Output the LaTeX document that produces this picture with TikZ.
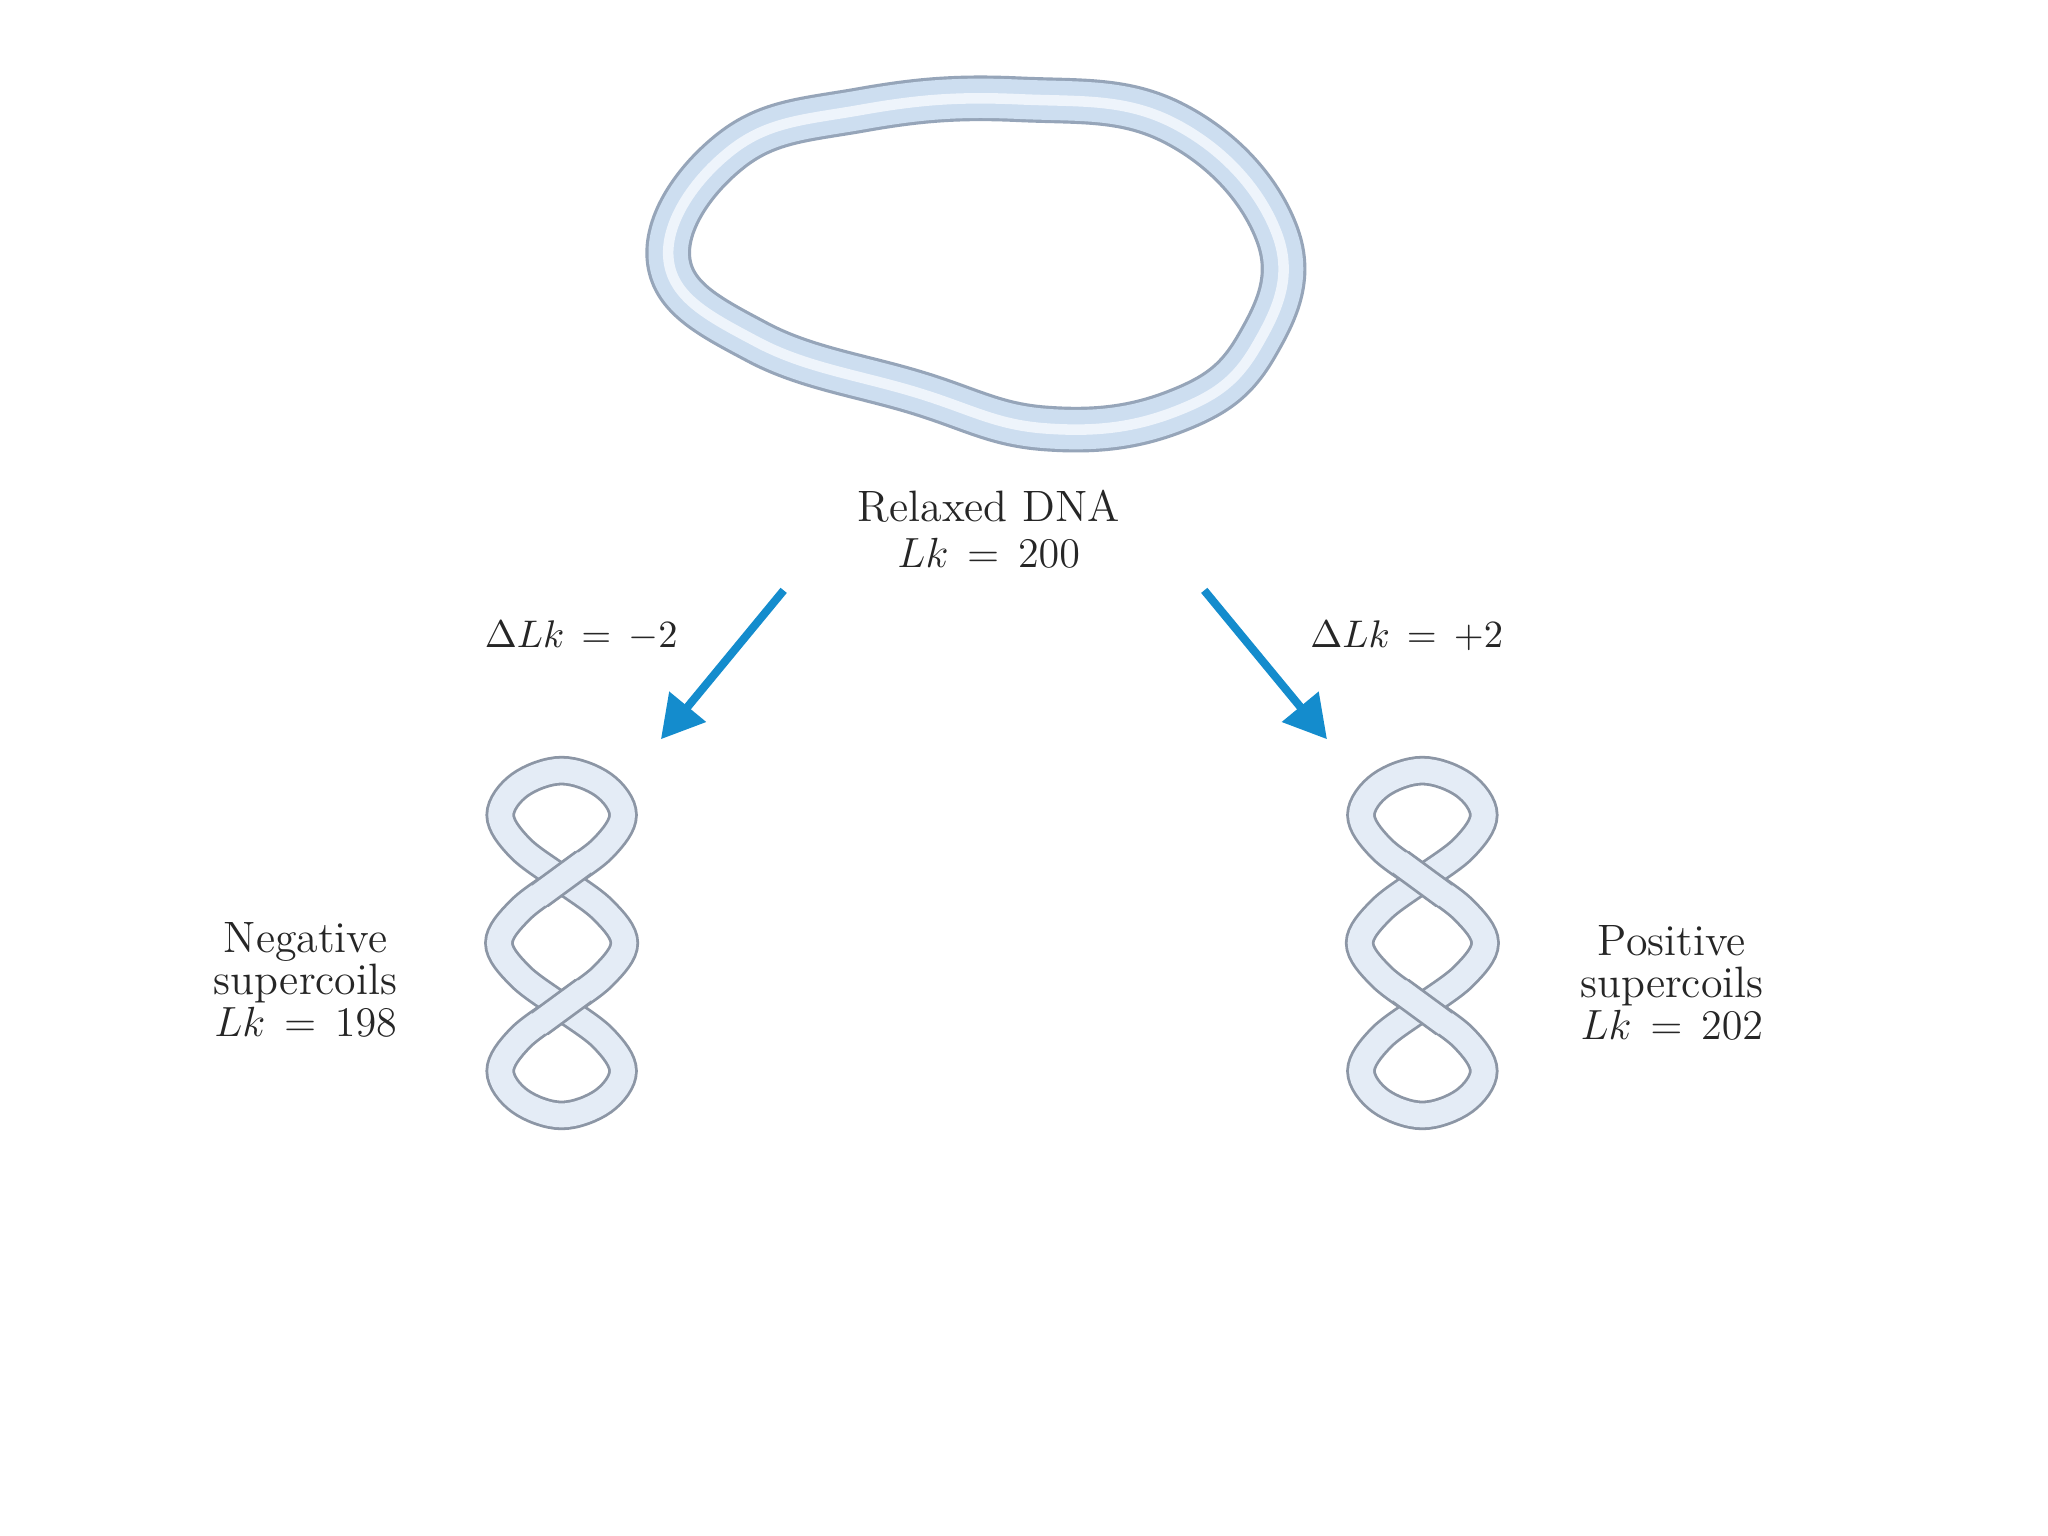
\documentclass[tikz,border=0pt]{standalone}
\usepackage{amsmath}
\usetikzlibrary{arrows.meta}
\tikzset{
 lbl/.style={font=\fontsize{12.5}{15}\selectfont, align=center, text=black!85},
 small/.style={font=\fontsize{11}{13}\selectfont, text=black!85},
 arr/.style={draw={rgb,255:red,20;green,140;blue,205}, line width=2.3pt, -{Triangle[width=13pt,length=12pt]}},
 tubeout/.style={draw={rgb,255:red,140;green,150;blue,165}, line width=8.4pt},
 tubein/.style={draw={rgb,255:red,228;green,236;blue,246}, line width=6.8pt},
}
\newcommand{\coilpath}{plot[smooth cycle,tension=0.6] coordinates{(0,-132) (32,-121) (47,-98) (32,-73) (0,-49) (-32,-25) (-48,0) (-32,25) (0,49) (32,73) (47,98) (32,121) (0,132) (-32,121) (-47,98) (-32,73) (0,49) (32,25) (48,0) (32,-25) (0,-49) (-32,-73) (-47,-98) (-32,-121)}}
\newcommand{\coil}{%
 \draw[tubeout] \coilpath; \draw[tubein] \coilpath;
 \draw[tubeout] (17,-61.5) -- (-17,-36.5); \draw[tubein] (18,-62.2) -- (-18,-35.8);
 \draw[tubeout] (17,36.5) -- (-17,61.5); \draw[tubein] (18,35.8) -- (-18,62.2);}
\begin{document}
\begin{tikzpicture}[x=0.01306cm,y=-0.01306cm]
\useasboundingbox (0,0) rectangle (1568,1176);
\fill[white] (0,0) rectangle (1568,1176);
% ring
\def\ringpath{plot[smooth cycle,tension=0.7] coordinates{(512,200) (560,115) (660,84) (780,76) (900,95) (978,180) (962,265) (900,315) (800,328) (700,300) (580,262)}}
\draw[draw={rgb,255:red,150;green,165;blue,185}, line width=13pt] \ringpath;
\draw[draw={rgb,255:red,205;green,222;blue,240}, line width=11.2pt] \ringpath;
\draw[draw={rgb,255:red,238;green,244;blue,251}, line width=3pt] \ringpath;
\node[lbl] (relax) at (757,405) {Relaxed DNA\\[-2pt] $Lk\,=\,200$};
\coordinate (la) at (600,452); \coordinate (lb) at (506,566);
\coordinate (ra) at (922,452); \coordinate (rb) at (1016,566);
\draw[arr] (la) -- (lb);
\draw[arr] (ra) -- (rb);
\node[small] (dl) at (445,487) {$\Delta Lk\,=\,-2$};
\node[small] (dr) at (1077,487) {$\Delta Lk\,=\,+2$};
\begin{scope}[shift={(430,722)}] \coil \end{scope}
\begin{scope}[shift={(1089,722)},xscale=-1] \coil \end{scope}
\node[lbl] (neg) at (234,750) {Negative\\[-3pt] supercoils\\[-3pt] $Lk\,=\,198$};
\node[lbl] (pos) at (1280,752) {Positive\\[-3pt] supercoils\\[-3pt] $Lk\,=\,202$};
\end{tikzpicture}
\end{document}
